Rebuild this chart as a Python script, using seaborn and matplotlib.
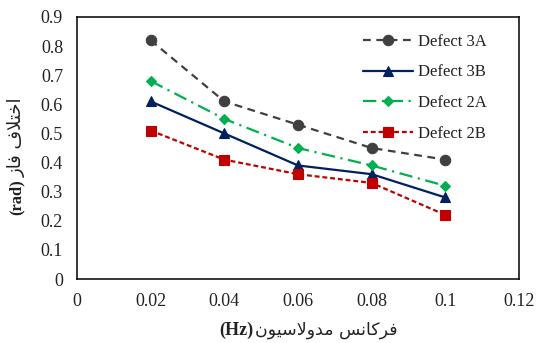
import matplotlib
matplotlib.use("Agg")
import matplotlib.pyplot as plt
import seaborn as sns
import numpy as np

freq = [0.02, 0.04, 0.06, 0.08, 0.10]
defect_3a = [0.82, 0.61, 0.53, 0.45, 0.41]
defect_3b = [0.61, 0.50, 0.39, 0.36, 0.28]
defect_2a = [0.68, 0.55, 0.45, 0.39, 0.32]
defect_2b = [0.51, 0.41, 0.36, 0.33, 0.22]
series_names = ["Defect 3A", "Defect 3B", "Defect 2A", "Defect 2B"]
x_ticks = [0, 0.02, 0.04, 0.06, 0.08, 0.10, 0.12]
y_ticks = [0, 0.1, 0.2, 0.3, 0.4, 0.5, 0.6, 0.7, 0.8, 0.9]

# Persian labels, pre-shaped into presentation forms in visual (LTR) order
# logical: "اختلاف فاز"
ylabel_fa = "\uFEAF\uFE8E\uFED3 \uFED1\uFEFC\uFE98\uFEA7\uFE8D"
# logical: "فرکانس مدولاسیون"
xlabel_fa = "\uFEE5\uFEEE\uFBFF\uFEB3\uFEFB\uFEED\uFEAA\uFEE3 \uFEB2\uFEE7\uFE8E\uFB90\uFEAE\uFED3"

sns.set_theme(style="white")
plt.rcParams['font.family'] = ['Liberation Serif', 'DejaVu Sans']

fig = plt.figure(figsize=(5.37, 3.43), dpi=100)
ax = fig.add_axes([77/537, 1-279/343, (519-77)/537, (279-17)/343])

styles = [
    dict(color="#404040", marker="o", dashes=(3.5, 2.5), ms=7.5),
    dict(color="#002060", marker="^", linestyle="-", ms=7.5),
    dict(color="#00B050", marker="D", dashes=(6, 2.5, 1, 2.5), ms=5.5),
    dict(color="#C00000", marker="s", dashes=(2.2, 1.3), ms=7.5),
]
data = [defect_3a, defect_3b, defect_2a, defect_2b]
for name, vals, st in zip(series_names, data, styles):
    st = dict(st)
    color = st.pop("color")
    sns.lineplot(x=freq, y=vals, ax=ax, color=color, label=name, lw=1.6,
                 markeredgecolor=color, markeredgewidth=0.8, sort=False,
                 errorbar=None, **st)

ax.set_xlim(0, 0.12)
ax.set_ylim(0, 0.9)
ax.set_xticks(x_ticks)
ax.set_yticks(y_ticks)
ax.set_xticklabels([f"{v:g}" for v in x_ticks])
ax.set_yticklabels([f"{v:g}" for v in y_ticks])
ax.tick_params(axis="both", which="major", direction="out", length=4, width=1,
               color="black", labelsize=13, labelcolor="#222222")
ax.tick_params(axis="y", pad=6)
ax.tick_params(axis="x", pad=6)
for sp in ax.spines.values():
    sp.set_visible(True)
    sp.set_color("black")
    sp.set_linewidth(1.1)
ax.set_xlabel("")
ax.set_ylabel("")
ax.grid(False)

leg = ax.legend(loc="upper left", bbox_to_anchor=((362-77)/441, (279-34)/262),
                frameon=False, fontsize=12, handlelength=3.0, handletextpad=0.3,
                labelspacing=0.87, borderpad=0, borderaxespad=0)
for t in leg.get_texts():
    t.set_color("#222222")

# x label
bx = 253/537
yx = 1 - 330/343
fig.text(bx, yx, "(Hz)", ha="right", va="center", fontsize=13, fontweight="bold",
         family=["Liberation Serif"], color="#222222")
fig.text(bx + 2/537, yx, xlabel_fa, ha="left", va="center", fontsize=12.5,
         family=["DejaVu Sans"], color="#222222")

# y label
by = 1 - 179/343
xy = 17/537
fig.text(xy, by, "(rad)", rotation=90, ha="center", va="top", fontsize=12,
         fontweight="bold", family=["Liberation Serif"], color="#222222")
fig.text(xy, by + 2/343, ylabel_fa, rotation=90, ha="center", va="bottom",
         fontsize=13, family=["DejaVu Sans"], color="#222222")

fig.savefig("out.png", dpi=100)
